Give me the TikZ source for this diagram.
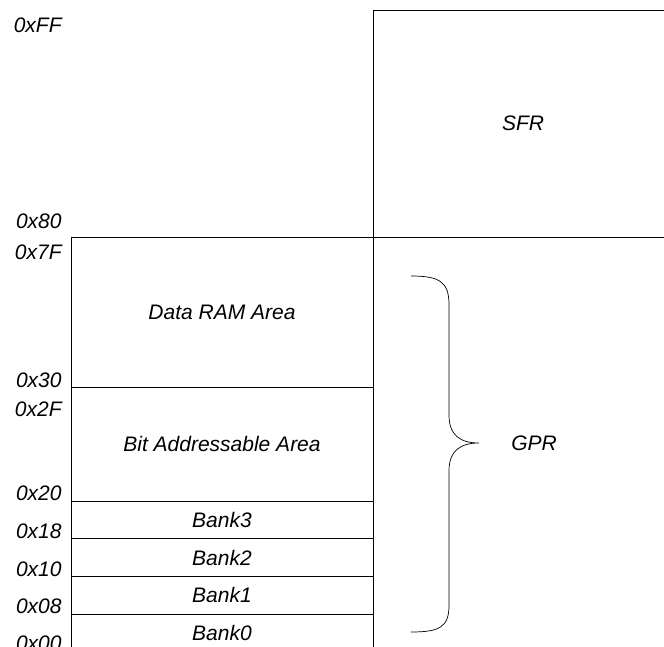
\documentclass[tikz,border=0pt]{standalone}
\usepackage{fontspec}
\setmainfont{Liberation Sans}
\usetikzlibrary{positioning}

\begin{document}
\begin{tikzpicture}[x=1pt, y=-1pt, line width=0.8pt, node distance=0pt,
    every node/.style={font=\fontsize{21}{25}\selectfont\itshape},
    region/.style={draw, inner sep=0pt, outer sep=0pt, minimum width=302pt},
    bank/.style={region, minimum height=37.75pt},
    addr/.style={anchor=east, inner sep=0pt}]
  \useasboundingbox (0,0) rectangle (664,647);
  % right column
  \node[draw, inner sep=0pt, outer sep=0pt, minimum width=300pt, minimum height=227pt] (sfr) at (523,123.5) {SFR};
  \node[draw, inner sep=0pt, outer sep=0pt, minimum width=300pt, minimum height=430pt, below=of sfr] (gprarea) {};
  % left column
  \node[region, minimum height=150pt] (data) at (222,312) {Data RAM Area};
  \node[region, minimum height=114pt, below=of data] (bit) {Bit Addressable Area};
  \node[bank, below=of bit] (bank3) {Bank3};
  \node[bank, below=of bank3] (bank2) {Bank2};
  \node[bank, below=of bank2] (bank1) {Bank1};
  \node[bank, below=of bank1] (bank0) {Bank0};
  % addresses
  \node[addr] (aFF) at (62,25) {0xFF};
  \node[addr] (a80) at (62,221) {0x80};
  \node[addr] (a7F) at (62,252) {0x7F};
  \node[addr] (a30) at (62,380) {0x30};
  \node[addr] (a2F) at (62,409) {0x2F};
  \node[addr] (a20) at (62,493) {0x20};
  \node[addr] (a18) at (62,531) {0x18};
  \node[addr] (a10) at (62,569) {0x10};
  \node[addr] (a08) at (62,606) {0x08};
  \node[addr] (a00) at (62,643) {0x00};
  % brace
  \draw[line width=0.7pt] (411,276) .. controls (440,276) and (449,282) .. (449,305)
    -- (449,415) .. controls (449,435) and (460,443) .. (479,443)
    .. controls (460,443) and (449,451) .. (449,471)
    -- (449,605) .. controls (449,627) and (440,632) .. (411,632);
  \node (gpr) at (534,443) {GPR};
\end{tikzpicture}
\end{document}
